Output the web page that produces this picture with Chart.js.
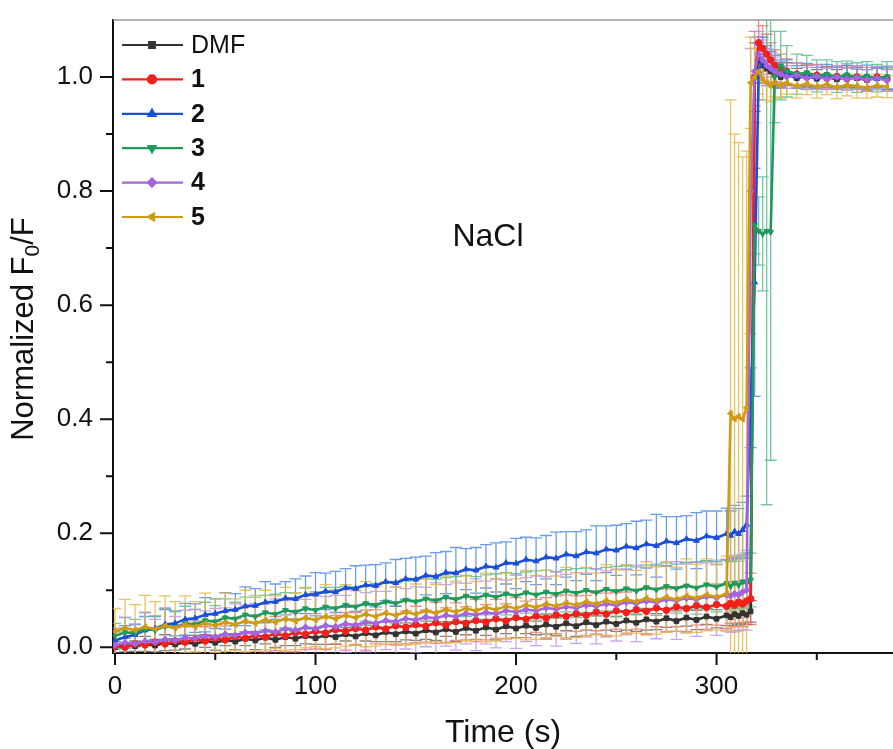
<!DOCTYPE html>
<html>
<head>
<meta charset="utf-8">
<title>NaCl response</title>
<script src="https://cdn.jsdelivr.net/npm/chart.js@4.4.0/dist/chart.umd.min.js"></script>
<style>
  html, body { margin: 0; padding: 0; background: #fff; overflow: hidden; }
  canvas { display: block; }
</style>
</head>
<body>
<canvas id="chart" width="898" height="749"></canvas>
<script>
// time points (s)
const time = [
  0, 5, 10, 15, 20, 25, 30, 35, 40, 45,
  50, 55, 60, 65, 70, 75, 80, 85, 90, 95,
  100, 105, 110, 115, 120, 125, 130, 135, 140, 145,
  150, 155, 160, 165, 170, 175, 180, 185, 190, 195,
  200, 205, 210, 215, 220, 225, 230, 235, 240, 245,
  250, 255, 260, 265, 270, 275, 280, 285, 290, 295,
  300, 305,
  307, 309, 311, 313, 315, 317, 319, 321, 323, 325, 327, 329,
  332, 335, 340, 345, 350, 355, 360, 365, 370, 375, 380, 385
];

const dmf = [
  0.000, 0.004, 0.002, 0.006, 0.003, 0.008, 0.005, 0.009, 0.006, 0.011,
  0.008, 0.013, 0.010, 0.015, 0.012, 0.017, 0.013, 0.018, 0.015, 0.020,
  0.016, 0.021, 0.018, 0.023, 0.019, 0.025, 0.021, 0.027, 0.023, 0.028,
  0.024, 0.030, 0.026, 0.032, 0.027, 0.034, 0.029, 0.035, 0.031, 0.037,
  0.033, 0.038, 0.034, 0.040, 0.036, 0.042, 0.037, 0.044, 0.039, 0.045,
  0.041, 0.047, 0.043, 0.049, 0.045, 0.051, 0.046, 0.052, 0.048, 0.054,
  0.050, 0.056,
  0.053, 0.058, 0.055, 0.060, 0.057, 0.063, 1.000, 1.030, 1.020, 1.015, 1.010, 1.005,
  1.000, 1.005, 0.998, 1.002, 0.997, 1.000, 0.996, 1.001, 0.998, 0.995, 0.999, 0.996
];
const dmfErr = [
  0.010, 0.012, 0.009, 0.013, 0.011, 0.014, 0.010, 0.012, 0.015, 0.011,
  0.013, 0.010, 0.014, 0.012, 0.016, 0.011, 0.013, 0.015, 0.012, 0.014,
  0.011, 0.016, 0.013, 0.012, 0.015, 0.014, 0.011, 0.017, 0.013, 0.015,
  0.012, 0.016, 0.014, 0.013, 0.017, 0.012, 0.015, 0.014, 0.018, 0.013,
  0.016, 0.014, 0.012, 0.017, 0.015, 0.013, 0.018, 0.014, 0.016, 0.015,
  0.013, 0.017, 0.015, 0.019, 0.014, 0.016, 0.018, 0.015, 0.017, 0.014,
  0.016, 0.018,
  0.015, 0.017, 0.016, 0.018, 0.017, 0.019, 0.060, 0.040, 0.030, 0.025, 0.020, 0.020,
  0.018, 0.020, 0.017, 0.019, 0.016, 0.018, 0.017, 0.019, 0.016, 0.018, 0.017, 0.018
];

const s1 = [
  0.002, 0.000, 0.006, 0.004, 0.009, 0.006, 0.011, 0.009, 0.014, 0.011,
  0.016, 0.013, 0.019, 0.016, 0.021, 0.018, 0.024, 0.020, 0.026, 0.023,
  0.028, 0.025, 0.031, 0.028, 0.033, 0.030, 0.036, 0.032, 0.038, 0.035,
  0.040, 0.037, 0.043, 0.039, 0.045, 0.042, 0.047, 0.044, 0.050, 0.046,
  0.052, 0.049, 0.055, 0.051, 0.057, 0.054, 0.059, 0.056, 0.062, 0.058,
  0.064, 0.061, 0.066, 0.063, 0.069, 0.065, 0.071, 0.068, 0.073, 0.070,
  0.075, 0.072,
  0.077, 0.074, 0.079, 0.076, 0.081, 0.085, 1.000, 1.060, 1.050, 1.040, 1.030, 1.020,
  1.015, 1.010, 1.005, 1.000, 1.003, 0.998, 1.001, 0.997, 1.000, 0.996, 1.000, 0.997
];
const s1Err = [
  0.020, 0.025, 0.022, 0.028, 0.024, 0.030, 0.023, 0.027, 0.032, 0.025,
  0.029, 0.024, 0.031, 0.027, 0.033, 0.026, 0.030, 0.028, 0.034, 0.027,
  0.031, 0.029, 0.025, 0.033, 0.028, 0.035, 0.030, 0.027, 0.034, 0.029,
  0.032, 0.028, 0.036, 0.030, 0.033, 0.029, 0.037, 0.031, 0.034, 0.030,
  0.035, 0.032, 0.029, 0.036, 0.033, 0.038, 0.031, 0.035, 0.033, 0.037,
  0.032, 0.036, 0.034, 0.039, 0.033, 0.037, 0.035, 0.040, 0.034, 0.038,
  0.036, 0.039,
  0.035, 0.038, 0.036, 0.040, 0.037, 0.045, 0.080, 0.050, 0.040, 0.035, 0.030, 0.028,
  0.025, 0.022, 0.020, 0.021, 0.019, 0.020, 0.018, 0.020, 0.019, 0.021, 0.018, 0.020
];

const s2 = [
  0.012, 0.018, 0.022, 0.030, 0.033, 0.040, 0.042, 0.049, 0.051, 0.057,
  0.059, 0.064, 0.066, 0.072, 0.073, 0.079, 0.080, 0.086, 0.085, 0.092,
  0.093, 0.098, 0.097, 0.104, 0.103, 0.109, 0.108, 0.115, 0.113, 0.120,
  0.119, 0.126, 0.124, 0.131, 0.130, 0.137, 0.135, 0.142, 0.140, 0.148,
  0.147, 0.154, 0.151, 0.158, 0.156, 0.163, 0.160, 0.167, 0.165, 0.172,
  0.170, 0.177, 0.174, 0.181, 0.178, 0.186, 0.183, 0.190, 0.187, 0.195,
  0.192, 0.199,
  0.196, 0.203, 0.199, 0.206, 0.215, 0.420, 0.640, 1.010, 1.030, 1.020, 1.015, 1.010,
  1.005, 1.008, 1.000, 1.003, 0.998, 1.002, 0.999, 1.003, 0.998, 1.000, 0.997, 0.999
];
const s2Err = [
  0.015, 0.020, 0.018, 0.024, 0.021, 0.026, 0.022, 0.028, 0.025, 0.030,
  0.026, 0.032, 0.028, 0.034, 0.030, 0.036, 0.031, 0.029, 0.035, 0.033,
  0.038, 0.032, 0.036, 0.034, 0.040, 0.035, 0.037, 0.033, 0.041, 0.036,
  0.039, 0.034, 0.042, 0.037, 0.045, 0.036, 0.040, 0.038, 0.043, 0.037,
  0.044, 0.039, 0.041, 0.038, 0.046, 0.040, 0.043, 0.039, 0.048, 0.041,
  0.044, 0.040, 0.047, 0.042, 0.055, 0.043, 0.046, 0.041, 0.049, 0.044,
  0.047, 0.045,
  0.043, 0.046, 0.044, 0.048, 0.050, 0.070, 0.200, 0.050, 0.040, 0.035, 0.030, 0.028,
  0.025, 0.022, 0.020, 0.021, 0.019, 0.020, 0.018, 0.020, 0.019, 0.021, 0.018, 0.020
];

const s3 = [
  0.020, 0.026, 0.025, 0.032, 0.030, 0.037, 0.035, 0.042, 0.040, 0.047,
  0.045, 0.052, 0.050, 0.057, 0.054, 0.061, 0.058, 0.065, 0.062, 0.068,
  0.065, 0.071, 0.068, 0.074, 0.071, 0.077, 0.074, 0.080, 0.077, 0.083,
  0.080, 0.085, 0.082, 0.088, 0.084, 0.090, 0.086, 0.092, 0.088, 0.094,
  0.090, 0.096, 0.092, 0.097, 0.093, 0.099, 0.095, 0.100, 0.096, 0.102,
  0.098, 0.103, 0.099, 0.105, 0.101, 0.107, 0.103, 0.108, 0.104, 0.110,
  0.106, 0.112,
  0.107, 0.113, 0.109, 0.115, 0.112, 0.118, 0.740, 0.730, 0.725, 0.730, 0.728, 1.000,
  1.020, 1.010, 1.005, 1.008, 1.002, 1.005, 1.000, 1.004, 0.999, 1.002, 0.998, 1.001
];
const s3Err = [
  0.022, 0.026, 0.024, 0.029, 0.025, 0.031, 0.027, 0.030, 0.026, 0.032,
  0.028, 0.033, 0.029, 0.031, 0.034, 0.030, 0.035, 0.031, 0.033, 0.036,
  0.032, 0.034, 0.037, 0.033, 0.035, 0.031, 0.038, 0.034, 0.036, 0.033,
  0.039, 0.035, 0.037, 0.034, 0.040, 0.036, 0.038, 0.035, 0.041, 0.037,
  0.039, 0.036, 0.042, 0.038, 0.040, 0.037, 0.043, 0.039, 0.041, 0.038,
  0.044, 0.040, 0.042, 0.039, 0.045, 0.041, 0.043, 0.040, 0.046, 0.042,
  0.044, 0.041,
  0.043, 0.045, 0.042, 0.046, 0.044, 0.047, 0.050, 0.060, 0.100, 0.480, 0.400, 0.080,
  0.060, 0.045, 0.035, 0.030, 0.028, 0.025, 0.027, 0.024, 0.026, 0.025, 0.024, 0.026
];

const s4 = [
  0.004, 0.008, 0.006, 0.011, 0.009, 0.014, 0.012, 0.017, 0.015, 0.020,
  0.018, 0.023, 0.021, 0.026, 0.024, 0.029, 0.027, 0.032, 0.030, 0.035,
  0.033, 0.038, 0.036, 0.041, 0.039, 0.044, 0.042, 0.047, 0.045, 0.050,
  0.048, 0.053, 0.051, 0.056, 0.054, 0.059, 0.057, 0.061, 0.059, 0.064,
  0.062, 0.066, 0.064, 0.069, 0.067, 0.071, 0.069, 0.074, 0.072, 0.076,
  0.074, 0.079, 0.077, 0.081, 0.079, 0.084, 0.082, 0.086, 0.084, 0.089,
  0.087, 0.092,
  0.090, 0.094, 0.092, 0.097, 0.100, 0.800, 1.010, 1.040, 1.030, 1.020, 1.015, 1.010,
  1.005, 1.000, 1.003, 0.998, 1.001, 0.997, 1.000, 0.996, 0.999, 0.995, 0.998, 0.994
];
const s4Err = [
  0.030, 0.045, 0.035, 0.050, 0.040, 0.055, 0.042, 0.048, 0.052, 0.044,
  0.050, 0.046, 0.055, 0.048, 0.053, 0.047, 0.058, 0.050, 0.054, 0.049,
  0.057, 0.051, 0.055, 0.050, 0.060, 0.052, 0.056, 0.051, 0.061, 0.053,
  0.058, 0.052, 0.062, 0.054, 0.059, 0.053, 0.063, 0.055, 0.060, 0.054,
  0.064, 0.056, 0.061, 0.055, 0.065, 0.057, 0.062, 0.056, 0.066, 0.058,
  0.063, 0.057, 0.067, 0.059, 0.064, 0.058, 0.068, 0.060, 0.065, 0.059,
  0.066, 0.062,
  0.064, 0.067, 0.063, 0.066, 0.070, 0.250, 0.060, 0.040, 0.035, 0.030, 0.028, 0.025,
  0.022, 0.020, 0.021, 0.019, 0.020, 0.018, 0.020, 0.019, 0.021, 0.018, 0.020, 0.019
];

const s5 = [
  0.028, 0.034, 0.030, 0.036, 0.032, 0.038, 0.034, 0.040, 0.036, 0.042,
  0.038, 0.044, 0.040, 0.046, 0.042, 0.048, 0.044, 0.050, 0.046, 0.052,
  0.048, 0.054, 0.050, 0.056, 0.052, 0.058, 0.054, 0.060, 0.056, 0.062,
  0.058, 0.064, 0.060, 0.066, 0.062, 0.068, 0.064, 0.070, 0.066, 0.072,
  0.068, 0.074, 0.070, 0.076, 0.072, 0.078, 0.074, 0.080, 0.076, 0.082,
  0.078, 0.084, 0.080, 0.086, 0.082, 0.088, 0.084, 0.090, 0.086, 0.092,
  0.088, 0.094,
  0.410, 0.400, 0.405, 0.400, 0.420, 0.990, 1.000, 1.010, 0.995, 0.990, 0.985, 0.990,
  0.985, 0.990, 0.984, 0.988, 0.983, 0.987, 0.982, 0.986, 0.984, 0.981, 0.985, 0.983
];
const s5Err = [
  0.040, 0.050, 0.045, 0.055, 0.048, 0.052, 0.046, 0.050, 0.044, 0.053,
  0.047, 0.051, 0.045, 0.054, 0.049, 0.052, 0.046, 0.055, 0.050, 0.053,
  0.047, 0.056, 0.051, 0.054, 0.048, 0.057, 0.052, 0.055, 0.049, 0.058,
  0.053, 0.056, 0.050, 0.059, 0.054, 0.057, 0.051, 0.060, 0.055, 0.058,
  0.052, 0.061, 0.056, 0.059, 0.053, 0.062, 0.057, 0.060, 0.054, 0.063,
  0.058, 0.061, 0.055, 0.064, 0.059, 0.062, 0.056, 0.065, 0.060, 0.063,
  0.058, 0.066,
  0.550, 0.500, 0.480, 0.460, 0.450, 0.080, 0.050, 0.040, 0.035, 0.030, 0.028, 0.025,
  0.022, 0.020, 0.021, 0.019, 0.020, 0.018, 0.020, 0.019, 0.021, 0.018, 0.020, 0.019
];

const xTicks = [0, 50, 100, 150, 200, 250, 300, 350];
const yTicks = [0, 0.1, 0.2, 0.3, 0.4, 0.5, 0.6, 0.7, 0.8, 0.9, 1.0];

const FONT = "'Liberation Sans', Arial, sans-serif";

const series = [
  { name: 'DMF', values: dmf, errors: dmfErr, color: '#333333', errColor: 'rgba(90,90,90,0.75)', style: 'rect', rot: 0, bold: false },
  { name: '1', values: s1, errors: s1Err, color: '#f2201b', errColor: 'rgba(242,100,90,0.75)', style: 'circle', rot: 0, bold: true },
  { name: '2', values: s2, errors: s2Err, color: '#1c4fd8', errColor: 'rgba(80,140,230,0.85)', style: 'triangle', rot: 0, bold: true },
  { name: '3', values: s3, errors: s3Err, color: '#1f9a5b', errColor: 'rgba(80,185,135,0.8)', style: 'triangle', rot: 180, bold: true },
  { name: '4', values: s4, errors: s4Err, color: '#a463e0', errColor: 'rgba(190,140,240,0.8)', style: 'rectRot', rot: 0, bold: true },
  { name: '5', values: s5, errors: s5Err, color: '#cf9b12', errColor: 'rgba(228,185,70,0.85)', style: 'triangle', rot: -90, bold: true }
];

const errorBars = {
  id: 'errorBars',
  beforeDatasetsDraw(chart) {
    const { ctx, chartArea: a, scales: { x, y } } = chart;
    ctx.save();
    ctx.beginPath();
    ctx.rect(a.left, a.top, a.right - a.left, a.bottom - a.top);
    ctx.clip();
    ctx.lineWidth = 1.3;
    series.forEach(s => {
      ctx.strokeStyle = s.errColor;
      ctx.beginPath();
      time.forEach((t, i) => {
        const px = x.getPixelForValue(t);
        const top = y.getPixelForValue(s.values[i] + s.errors[i]);
        const bot = y.getPixelForValue(s.values[i] - s.errors[i]);
        ctx.moveTo(px, top); ctx.lineTo(px, bot);
        ctx.moveTo(px - 6, top); ctx.lineTo(px + 6, top);
        ctx.moveTo(px - 6, bot); ctx.lineTo(px + 6, bot);
      });
      ctx.stroke();
    });
    ctx.restore();
  }
};

const decorations = {
  id: 'decorations',
  afterDraw(chart) {
    const { ctx, chartArea: a, scales: { x, y } } = chart;
    ctx.save();

    // top frame line
    ctx.strokeStyle = '#999';
    ctx.lineWidth = 1.5;
    ctx.beginPath();
    ctx.moveTo(a.left, a.top);
    ctx.lineTo(a.right, a.top);
    ctx.stroke();

    // tick marks, major and minor
    ctx.strokeStyle = '#111';
    ctx.lineWidth = 2;
    ctx.beginPath();
    xTicks.forEach(v => {
      const px = x.getPixelForValue(v);
      const len = v % 100 === 0 ? 12 : 7;
      ctx.moveTo(px, a.bottom); ctx.lineTo(px, a.bottom + len);
    });
    yTicks.forEach(v => {
      const py = y.getPixelForValue(v);
      const len = Math.round(v * 10) % 2 === 0 ? 13 : 7;
      ctx.moveTo(a.left, py); ctx.lineTo(a.left - len, py);
    });
    ctx.stroke();

    // y axis title with subscript
    ctx.fillStyle = '#111';
    ctx.translate(33, 329);
    ctx.rotate(-Math.PI / 2);
    ctx.textBaseline = 'alphabetic';
    const big = '31px ' + FONT, small = '21px ' + FONT;
    ctx.font = big;
    const w1 = ctx.measureText('Normalized F').width;
    const w3 = ctx.measureText('/F').width;
    ctx.font = small;
    const w2 = ctx.measureText('0').width;
    let sx = -(w1 + w2 + w3) / 2;
    ctx.font = big;
    ctx.textAlign = 'left';
    ctx.fillText('Normalized F', sx, 0);
    ctx.font = small;
    ctx.fillText('0', sx + w1, 6);
    ctx.font = big;
    ctx.fillText('/F', sx + w1 + w2, 0);
    ctx.setTransform(1, 0, 0, 1, 0, 0);

    // annotation
    ctx.font = '32px ' + FONT;
    ctx.textAlign = 'center';
    ctx.fillStyle = '#111';
    ctx.fillText('NaCl', x.getPixelForValue(186), y.getPixelForValue(0.703));

    // legend
    series.forEach((s, i) => {
      const ly = 45 + i * 34.4;
      ctx.strokeStyle = s.color;
      ctx.lineWidth = 2.2;
      ctx.beginPath();
      ctx.moveTo(122, ly); ctx.lineTo(183, ly);
      ctx.stroke();
      ctx.fillStyle = s.color;
      Chart.helpers.drawPoint(ctx, { pointStyle: s.style, rotation: s.rot, radius: 4, borderWidth: 1 }, 152, ly);
      ctx.fillStyle = '#111';
      ctx.textAlign = 'left';
      ctx.textBaseline = 'middle';
      ctx.font = (s.bold ? 'bold ' : '') + '25px ' + FONT;
      ctx.fillText(s.name, 191, ly + 1);
    });

    ctx.restore();
  }
};

Chart.defaults.font.family = FONT;
Chart.defaults.color = '#111';

new Chart(document.getElementById('chart'), {
  type: 'line',
  data: {
    datasets: series.map((s, i) => ({
      label: s.name,
      data: time.map((t, k) => ({ x: t, y: s.values[k] })),
      borderColor: s.color,
      backgroundColor: s.color,
      borderWidth: 2.6,
      pointStyle: s.style,
      pointRotation: s.rot,
      pointRadius: 3.3,
      pointBorderWidth: 1,
      tension: 0,
      order: series.length - i
    }))
  },
  options: {
    responsive: false,
    animation: false,
    layout: { padding: { top: 20, right: 0, left: 0, bottom: 0 } },
    plugins: {
      legend: { display: false },
      tooltip: { enabled: false }
    },
    scales: {
      x: {
        type: 'linear',
        min: -1,
        max: 388,
        afterBuildTicks: s => { s.ticks = xTicks.map(v => ({ value: v })); },
        afterFit: s => { s.height = 96; s.paddingLeft = 0; s.paddingRight = 0; },
        grid: { display: false, drawTicks: false },
        border: { display: true, color: '#111', width: 2 },
        ticks: {
          padding: 18,
          font: { size: 26 },
          color: '#111',
          maxRotation: 0,
          autoSkip: false,
          callback: v => (v % 100 === 0 ? String(v) : '')
        },
        title: {
          display: true,
          text: 'Time (s)',
          font: { size: 32, lineHeight: 1.0 },
          color: '#111',
          padding: { top: 0, bottom: 0 }
        }
      },
      y: {
        min: -0.01,
        max: 1.1,
        afterBuildTicks: s => { s.ticks = yTicks.map(v => ({ value: v })); },
        afterFit: s => { s.width = 113; s.paddingTop = 0; s.paddingBottom = 0; },
        grid: { display: false, drawTicks: false },
        border: { display: true, color: '#111', width: 2 },
        ticks: {
          padding: 20,
          font: { size: 26 },
          color: '#111',
          autoSkip: false,
          callback: v => (Math.round(v * 10) % 2 === 0 ? v.toFixed(1) : '')
        }
      }
    }
  },
  plugins: [errorBars, decorations]
});
</script>
</body>
</html>
